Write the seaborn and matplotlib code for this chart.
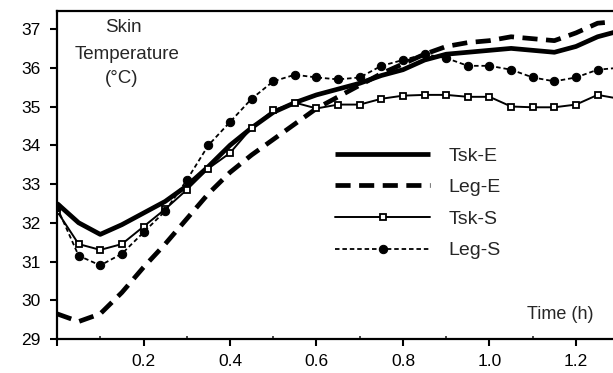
import numpy as np
import pandas as pd
import matplotlib
matplotlib.use("Agg")
import matplotlib.pyplot as plt
import seaborn as sns
from matplotlib.ticker import FixedLocator

sns.set_theme(style="white")
plt.rcParams['font.family'] = ['Liberation Sans', 'DejaVu Sans']

time_h = [0.0, 0.05, 0.1, 0.15, 0.2, 0.25, 0.3, 0.35, 0.4, 0.45, 0.5, 0.55, 0.6,
          0.65, 0.7, 0.75, 0.8, 0.85, 0.9, 0.95, 1.0, 1.05, 1.1, 1.15, 1.2, 1.25, 1.3]

tsk_e = [32.5, 32.0, 31.7, 31.95, 32.25, 32.55, 32.95, 33.45, 34.0, 34.45, 34.85, 35.1, 35.3,
         35.45, 35.6, 35.8, 35.95, 36.2, 36.35, 36.4, 36.45, 36.5, 36.45, 36.4, 36.55, 36.8, 36.95]

leg_e = [29.65, 29.45, 29.65, 30.2, 30.85, 31.45, 32.1, 32.75, 33.3, 33.75, 34.15, 34.55, 34.95,
         35.25, 35.55, 35.85, 36.1, 36.35, 36.55, 36.65, 36.7, 36.8, 36.75, 36.7, 36.9, 37.15, 37.2]

tsk_s = [32.3, 31.45, 31.3, 31.45, 31.9, 32.35, 32.85, 33.4, 33.8, 34.45, 34.9, 35.1, 34.95,
         35.05, 35.05, 35.2, 35.28, 35.3, 35.3, 35.25, 35.25, 35.0, 34.98, 34.98, 35.05, 35.3, 35.2]

leg_s = [32.4, 31.15, 30.9, 31.2, 31.75, 32.3, 33.1, 34.0, 34.6, 35.2, 35.65, 35.82, 35.75,
         35.7, 35.75, 36.05, 36.2, 36.35, 36.25, 36.05, 36.05, 35.95, 35.75, 35.65, 35.75, 35.95, 36.0]

series_labels = ["Tsk-E", "Leg-E", "Tsk-S", "Leg-S"]
y_ticks = [29, 30, 31, 32, 33, 34, 35, 36, 37]
x_major = [0.0, 0.2, 0.4, 0.6, 0.8, 1.0, 1.2]
x_major_labels = ["", "0.2", "0.4", "0.6", "0.8", "1.0", "1.2"]
x_minor = [0.1, 0.3, 0.5, 0.7, 0.9, 1.1]

fig = plt.figure(figsize=(6.13, 3.73), dpi=100)
W, H = 613, 373
ax = fig.add_axes([57 / W, 34 / H, 1.3 * 432.5 / W, 328 / H])

sns.lineplot(x=time_h, y=tsk_e, ax=ax, color="black", lw=3.4, label=series_labels[0],
             solid_capstyle="butt")
sns.lineplot(x=time_h, y=leg_e, ax=ax, color="black", lw=3.4, label=series_labels[1])
sns.lineplot(x=time_h, y=tsk_s, ax=ax, color="black", lw=1.4, label=series_labels[2],
             marker="s", markersize=5, markerfacecolor="white", markeredgecolor="black",
             markeredgewidth=1.3)
sns.lineplot(x=time_h, y=leg_s, ax=ax, color="black", lw=1.3, label=series_labels[3],
             marker="o", markersize=6, markerfacecolor="black", markeredgecolor="black")

lines = ax.get_lines()
lines[1].set_dashes([3.2, 1.8])
lines[3].set_dashes([2.5, 1.6])

ax.set_xlim(0, 1.3)
ax.set_ylim(29, 37.465)
ax.set_yticks(y_ticks)
ax.set_yticklabels([str(v) for v in y_ticks])
ax.xaxis.set_major_locator(FixedLocator(x_major))
ax.set_xticklabels(x_major_labels)
ax.xaxis.set_minor_locator(FixedLocator(x_minor))
ax.set_xlabel("")
ax.set_ylabel("")

for side in ["left", "bottom", "top"]:
    ax.spines[side].set_visible(True)
    ax.spines[side].set_color("black")
    ax.spines[side].set_linewidth(1.6)
ax.spines["right"].set_visible(False)

ax.tick_params(axis="y", which="major", direction="out", length=5, width=1.5,
               pad=7, labelsize=12.5, left=True, colors="black")
ax.tick_params(axis="x", which="major", direction="out", length=5, width=1.5,
               pad=6, labelsize=12.5, bottom=True, colors="black")
ax.tick_params(axis="x", which="minor", direction="in", length=2, width=1.2, bottom=True)

ax.text(0.153, 37.05, "Skin", ha="center", va="center", fontsize=13.5)
ax.text(0.162, 36.33, "Temperature", ha="center", va="center", fontsize=13.5)
ax.text(0.150, 35.72, "(°C)", ha="center", va="center", fontsize=13.5)
ax.text(1.163, 29.62, "Time (h)", ha="center", va="center", fontsize=13)

leg = ax.legend(loc="upper left", bbox_to_anchor=((335 - 57) / (1.3 * 432.5), (339 - 147) / 328),
                frameon=False, fontsize=14, handlelength=4.9, handletextpad=0.95,
                labelspacing=0.72, borderpad=0, borderaxespad=0)

fig.savefig("out.png", dpi=100)
